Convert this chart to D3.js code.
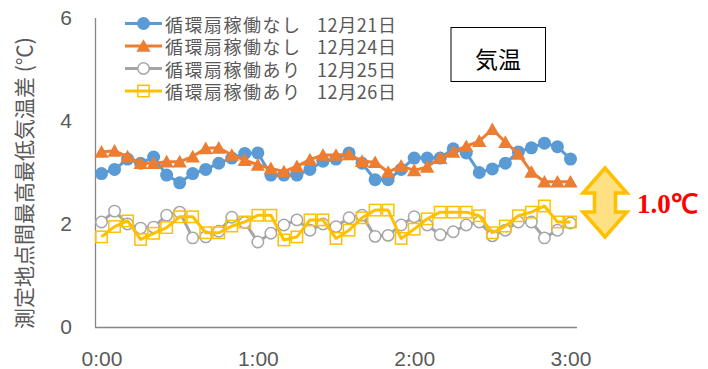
<!DOCTYPE html>
<html>
<head>
<meta charset="utf-8">
<script src="https://cdn.jsdelivr.net/npm/d3@7"></script>
<style>
  html, body { margin: 0; padding: 0; background: #fff; }
  svg { display: block; }
</style>
</head>
<body>
<svg id="chart" width="708" height="369"></svg>
<script>
// Time of day, every 5 minutes from 0:00 to 3:00
const times = d3.range(0, 37).map(i => {
  const m = i * 5;
  return Math.floor(m / 60) + ":" + String(m % 60).padStart(2, "0");
});
const xTickLabels = ["0:00", "1:00", "2:00", "3:00"];
const yTicks = [0, 2, 4, 6];

const seriesNames = ["循環扇稼働なし", "循環扇稼働なし", "循環扇稼働あり", "循環扇稼働あり"];
const seriesDates = ["12月21日", "12月24日", "12月25日", "12月26日"];

// Max–min temperature difference between measuring points (℃)
const dec21 = [2.98, 3.06, 3.26, 3.18, 3.30, 2.95, 2.80, 2.98, 3.06, 3.18,
               3.28, 3.37, 3.38, 2.95, 2.95, 2.95, 3.06, 3.22, 3.26, 3.38,
               3.18, 2.86, 2.86, 3.06, 3.28, 3.28, 3.28, 3.46, 3.38, 3.00,
               3.07, 3.18, 3.40, 3.48, 3.57, 3.50, 3.26];
const dec24 = [3.40, 3.42, 3.31, 3.18, 3.18, 3.21, 3.21, 3.31, 3.47, 3.48,
               3.34, 3.24, 3.15, 3.08, 3.02, 3.12, 3.25, 3.34, 3.34, 3.35,
               3.22, 3.20, 3.01, 3.13, 3.04, 3.11, 3.28, 3.40, 3.51, 3.61,
               3.84, 3.59, 3.36, 3.01, 2.82, 2.82, 2.82];
const dec25 = [2.04, 2.25, 2.00, 1.92, 1.94, 2.17, 2.23, 1.73, 1.75, 1.86,
               2.13, 2.03, 1.65, 1.82, 1.98, 2.08, 1.88, 2.00, 1.95, 2.12,
               2.17, 1.76, 1.78, 1.98, 2.14, 1.98, 1.79, 1.85, 1.98, 2.04,
               1.77, 1.88, 2.04, 2.04, 1.73, 1.88, 2.02];
const dec26 = [1.75, 1.95, 2.06, 1.70, 1.82, 1.93, 2.14, 2.14, 1.83, 1.83,
               1.96, 2.04, 2.17, 2.17, 1.69, 1.75, 2.08, 2.08, 1.72, 1.88,
               2.12, 2.27, 2.27, 1.72, 1.90, 2.10, 2.23, 2.23, 2.23, 2.16,
               1.83, 1.96, 2.16, 2.23, 2.35, 2.04, 2.04];

const colors = ["#5B9BD5", "#ED7D31", "#A5A5A5", "#FFC000"];
const markers = ["circle", "triangle", "ring", "square"];
const allSeries = [dec21, dec24, dec25, dec26];

const svg = d3.select("#chart");
const textColor = "#595959";
const axisColor = "#868686";

const x = d3.scalePoint().domain(times).range([95, 577]).padding(0.5);
const y = d3.scaleLinear().domain([0, 6]).range([327, 18]);

// Axes
const yAxis = svg.append("g")
  .attr("transform", "translate(95,0)")
  .call(d3.axisLeft(y).tickValues(yTicks).tickSize(0).tickPadding(23).tickFormat(d3.format("d")));
const xAxis = svg.append("g")
  .attr("transform", "translate(0,327)")
  .call(d3.axisBottom(x).tickValues(xTickLabels).tickSize(0).tickPadding(24));
[xAxis, yAxis].forEach(g => {
  g.select(".domain").attr("stroke", axisColor).attr("stroke-width", 1.3);
  g.selectAll("text")
    .attr("fill", textColor)
    .style("font-family", "'Liberation Sans', Arial, sans-serif")
    .style("font-size", "21px");
});
xAxis.select(".domain").attr("d", "M95,0.5H577");
yAxis.select(".domain").attr("d", "M0.5,327V18");

// Y axis title
svg.append("text")
  .attr("transform", "translate(23,183) rotate(-90)")
  .attr("text-anchor", "middle")
  .attr("dominant-baseline", "central")
  .attr("fill", textColor)
  .style("font-family", "'Noto Sans CJK JP', sans-serif")
  .style("font-size", "21px")
  .text("測定地点間最高最低気温差 (℃)");

const line = d3.line().x((d, i) => x(times[i])).y(d => y(d));

function drawMarker(g, type, color, cx, cy, s) {
  if (type === "circle") {
    g.append("circle").attr("cx", cx).attr("cy", cy).attr("r", s)
      .attr("fill", color);
  } else if (type === "triangle") {
    g.append("path")
      .attr("d", `M${cx},${cy - s * 1.05}L${cx + s * 1.1},${cy + s * 0.9}L${cx - s * 1.1},${cy + s * 0.9}Z`)
      .attr("fill", color);
  } else if (type === "ring") {
    g.append("circle").attr("cx", cx).attr("cy", cy).attr("r", s - 0.8)
      .attr("fill", "#fff").attr("stroke", color).attr("stroke-width", 1.5);
  } else if (type === "square") {
    g.append("rect").attr("x", cx - s + 0.8).attr("y", cy - s + 0.8)
      .attr("width", 2 * s - 1.6).attr("height", 2 * s - 1.6)
      .attr("fill", "none").attr("stroke", color).attr("stroke-width", 1.5);
  }
}

// Series lines and markers
allSeries.forEach((vals, k) => {
  const g = svg.append("g");
  g.append("path").datum(vals)
    .attr("d", line)
    .attr("fill", "none")
    .attr("stroke", colors[k])
    .attr("stroke-width", 3)
    .attr("stroke-linejoin", "round");
  vals.forEach((v, i) => drawMarker(g, markers[k], colors[k], x(times[i]), y(v), 6.5));
});

// Legend
const legendRows = [23.5, 46, 68.5, 91];
seriesNames.forEach((name, k) => {
  const g = svg.append("g");
  const ly = legendRows[k];
  g.append("line").attr("x1", 125).attr("x2", 162).attr("y1", ly).attr("y2", ly)
    .attr("stroke", colors[k]).attr("stroke-width", 3);
  drawMarker(g, markers[k], colors[k], 143.5, ly, 6.5);
  g.append("text").attr("x", 165).attr("y", ly)
    .attr("dominant-baseline", "central")
    .attr("fill", textColor)
    .style("font-family", "'Noto Sans CJK JP', sans-serif")
    .style("font-size", "18px")
    .style("letter-spacing", "1.5px")
    .text(name);
  g.append("text").attr("x", 317).attr("y", ly)
    .attr("dominant-baseline", "central")
    .attr("fill", textColor)
    .style("font-family", "'Noto Sans CJK JP', sans-serif")
    .style("font-size", "18px")
    .style("letter-spacing", "0.6px")
    .text(seriesDates[k]);
});

// "気温" label box
svg.append("rect").attr("x", 451).attr("y", 27.5).attr("width", 94.5).attr("height", 54)
  .attr("fill", "#fff").attr("stroke", "#000").attr("stroke-width", 1);
svg.append("text").attr("x", 498).attr("y", 57.5)
  .attr("text-anchor", "middle").attr("dominant-baseline", "central")
  .attr("fill", "#000")
  .style("font-family", "'Noto Sans CJK JP', sans-serif")
  .style("font-size", "23px")
  .text("気温");

// Double-headed arrow with the gap annotation
const ax = 605, aTop = 168, aBot = 237, headW = 22, shaftW = 10.5, headH = 25;
svg.append("path")
  .attr("d", `M${ax},${aTop} L${ax + headW},${aTop + headH} L${ax + shaftW},${aTop + headH}
              L${ax + shaftW},${aBot - headH} L${ax + headW},${aBot - headH} L${ax},${aBot}
              L${ax - headW},${aBot - headH} L${ax - shaftW},${aBot - headH}
              L${ax - shaftW},${aTop + headH} L${ax - headW},${aTop + headH} Z`)
  .attr("fill", "#FFE083")
  .attr("stroke", "#FFC000")
  .attr("stroke-width", 3.5)
  .attr("stroke-linejoin", "miter");
svg.append("text").attr("x", 637).attr("y", 213)
  .attr("fill", "#FF0000")
  .style("font-family", "'Liberation Serif', 'Times New Roman', serif")
  .style("font-weight", "bold")
  .style("font-size", "27px")
  .text("1.0℃");
</script>
</body>
</html>
